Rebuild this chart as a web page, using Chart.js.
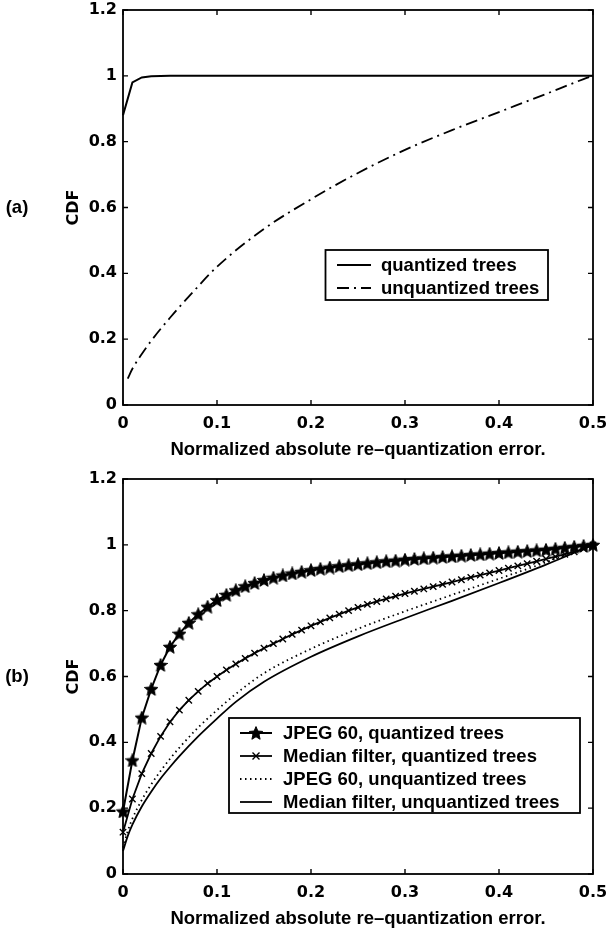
<!DOCTYPE html>
<html>
<head>
<meta charset="utf-8">
<script src="https://cdn.jsdelivr.net/npm/chart.js@4.4.0/dist/chart.umd.min.js"></script>
<style>
  html, body { margin: 0; padding: 0; background: #fff; overflow: hidden; }
  body { width: 612px; height: 931px; position: relative; }
  .panel { position: absolute; left: 0; width: 612px; height: 469px; }
  #panelA { top: 0; }
  #panelB { top: 469px; }
</style>
</head>
<body>
<div class="panel" id="panelA"><canvas id="chartA" width="612" height="469"></canvas></div>
<div class="panel" id="panelB"><canvas id="chartB" width="612" height="469"></canvas></div>
<script>
// Axis ticks (shared by both panels)
const xTickValues = [0, 0.1, 0.2, 0.3, 0.4, 0.5];
const xTickLabels = ['0', '0.1', '0.2', '0.3', '0.4', '0.5'];
const yTickValues = [0, 0.2, 0.4, 0.6, 0.8, 1, 1.2];
const yTickLabels = ['0', '0.2', '0.4', '0.6', '0.8', '1', '1.2'];

// Panel (a)
const aQuantX = [0, 0.01, 0.02, 0.03, 0.05, 0.1, 0.2, 0.3, 0.4, 0.5];
const aQuantY = [0.88, 0.98, 0.995, 0.999, 1, 1, 1, 1, 1, 1];
const aUnquantX = [0.005, 0.01, 0.02, 0.03, 0.05, 0.075, 0.1, 0.15, 0.2, 0.25, 0.3, 0.35, 0.4, 0.45, 0.49, 0.5];
const aUnquantY = [0.08, 0.11, 0.155, 0.195, 0.265, 0.345, 0.42, 0.535, 0.625, 0.705, 0.775, 0.835, 0.89, 0.945, 0.99, 1.0];

// Panel (b) - marker series sampled every 0.01
const bMarkX = [0, 0.01, 0.02, 0.03, 0.04, 0.05, 0.06, 0.07, 0.08, 0.09,
    0.10, 0.11, 0.12, 0.13, 0.14, 0.15, 0.16, 0.17, 0.18, 0.19,
    0.20, 0.21, 0.22, 0.23, 0.24, 0.25, 0.26, 0.27, 0.28, 0.29,
    0.30, 0.31, 0.32, 0.33, 0.34, 0.35, 0.36, 0.37, 0.38, 0.39,
    0.40, 0.41, 0.42, 0.43, 0.44, 0.45, 0.46, 0.47, 0.48, 0.49, 0.50];
const bJpegQuant = [0.19, 0.345, 0.475, 0.562, 0.635, 0.690, 0.730, 0.763, 0.789, 0.812,
    0.832, 0.848, 0.862, 0.874, 0.884, 0.893, 0.900, 0.907, 0.913, 0.918,
    0.923, 0.927, 0.931, 0.935, 0.938, 0.941, 0.944, 0.947, 0.950, 0.952,
    0.955, 0.957, 0.959, 0.961, 0.963, 0.965, 0.967, 0.969, 0.971, 0.973,
    0.975, 0.977, 0.979, 0.981, 0.983, 0.985, 0.988, 0.991, 0.994, 0.997, 1.0];
const bMedianQuant = [0.127, 0.228, 0.305, 0.366, 0.418, 0.462, 0.498, 0.528, 0.555, 0.579,
    0.600, 0.620, 0.638, 0.655, 0.671, 0.686, 0.700, 0.714, 0.728, 0.741,
    0.754, 0.766, 0.778, 0.789, 0.800, 0.810, 0.819, 0.828, 0.836, 0.844,
    0.852, 0.859, 0.866, 0.873, 0.880, 0.887, 0.894, 0.901, 0.908, 0.915,
    0.922, 0.929, 0.936, 0.943, 0.950, 0.957, 0.964, 0.971, 0.979, 0.988, 1.0];
const bLineX = [0, 0.005, 0.01, 0.02, 0.03, 0.04, 0.05, 0.06, 0.08, 0.1, 0.12, 0.15, 0.2, 0.25, 0.3, 0.35, 0.4, 0.45, 0.5];
const bJpegUnquant = [0.08, 0.13, 0.168, 0.225, 0.272, 0.313, 0.35, 0.384, 0.445, 0.498, 0.547, 0.61, 0.684, 0.745, 0.798, 0.848, 0.897, 0.947, 1.0];
const bMedianUnquant = [0.07, 0.115, 0.15, 0.205, 0.25, 0.29, 0.325, 0.358, 0.418, 0.472, 0.523, 0.584, 0.66, 0.722, 0.777, 0.83, 0.884, 0.94, 1.0];

const TICK_FONT = '"DejaVu Sans", "Liberation Sans", sans-serif';
const TEXT_FONT = '"Liberation Sans", Arial, sans-serif';

function toPoints(xs, ys) {
    return xs.map((x, i) => ({ x: x, y: ys[i] }));
}

// filled five point star used as a marker
function makeStar(size) {
    const c = document.createElement('canvas');
    c.width = size;
    c.height = size;
    const g = c.getContext('2d');
    const R = size / 2, r = R * 0.45;
    g.beginPath();
    for (let i = 0; i < 10; i++) {
        const rad = i % 2 ? r : R;
        const ang = -Math.PI / 2 + i * Math.PI / 5;
        g.lineTo(R + rad * Math.cos(ang), R + 0.6 + rad * Math.sin(ang));
    }
    g.closePath();
    g.fillStyle = '#000';
    g.fill();
    g.strokeStyle = '#000';
    g.lineWidth = 1;
    g.stroke();
    return c;
}
const starImg = makeStar(14);

// box + inward ticks on all four sides
const frameTicks = {
    id: 'frameTicks',
    afterDatasetsDraw(chart) {
        const { ctx, chartArea: a, scales: { x, y } } = chart;
        ctx.save();
        ctx.strokeStyle = '#000';
        ctx.lineWidth = 1.8;
        ctx.strokeRect(a.left, a.top, a.right - a.left, a.bottom - a.top);
        ctx.lineWidth = 1.4;
        ctx.beginPath();
        xTickValues.forEach(v => {
            const px = x.getPixelForValue(v);
            ctx.moveTo(px, a.bottom); ctx.lineTo(px, a.bottom - 5);
            ctx.moveTo(px, a.top); ctx.lineTo(px, a.top + 5);
        });
        yTickValues.forEach(v => {
            const py = y.getPixelForValue(v);
            ctx.moveTo(a.left, py); ctx.lineTo(a.left + 5, py);
            ctx.moveTo(a.right, py); ctx.lineTo(a.right - 5, py);
        });
        ctx.stroke();
        ctx.restore();
    }
};

// legend box inside the axes + panel letter
const boxLegend = {
    id: 'boxLegend',
    afterDraw(chart, args, opts) {
        const ctx = chart.ctx;
        const b = opts.box;
        ctx.save();
        ctx.fillStyle = '#fff';
        ctx.fillRect(b.left, b.top, b.right - b.left, b.bottom - b.top);
        ctx.strokeStyle = '#000';
        ctx.lineWidth = 1.8;
        ctx.strokeRect(b.left, b.top, b.right - b.left, b.bottom - b.top);
        ctx.font = 'bold 18.5px ' + TEXT_FONT;
        ctx.textBaseline = 'middle';
        ctx.fillStyle = '#000';
        opts.entries.forEach((e, i) => {
            const yy = b.firstY + i * b.step;
            ctx.lineWidth = e.width;
            ctx.setLineDash(e.dash);
            ctx.beginPath();
            ctx.moveTo(b.sample0, yy);
            ctx.lineTo(b.sample1, yy);
            ctx.stroke();
            ctx.setLineDash([]);
            const mx = (b.sample0 + b.sample1) / 2;
            if (e.marker === 'star') {
                ctx.drawImage(starImg, mx - starImg.width / 2, yy - starImg.height / 2);
            } else if (e.marker === 'cross') {
                ctx.lineWidth = 1.4;
                ctx.beginPath();
                ctx.moveTo(mx - 3.5, yy - 3.5); ctx.lineTo(mx + 3.5, yy + 3.5);
                ctx.moveTo(mx - 3.5, yy + 3.5); ctx.lineTo(mx + 3.5, yy - 3.5);
                ctx.stroke();
            }
            ctx.fillText(e.label, b.textX, yy + 1);
        });
        ctx.textAlign = 'center';
        ctx.fillText(opts.letter, 17, (chart.chartArea.top + chart.chartArea.bottom) / 2);
        ctx.restore();
    }
};

function makeChart(canvasId, datasets, legendOpts) {
    const tickFont = { family: TICK_FONT, size: 16, weight: 'bold' };
    return new Chart(document.getElementById(canvasId), {
        type: 'line',
        data: { datasets: datasets },
        options: {
            responsive: false,
            animation: false,
            devicePixelRatio: 1,
            layout: { padding: { left: 0, top: 10, right: 19, bottom: 0 } },
            plugins: {
                legend: { display: false },
                tooltip: { enabled: false },
                boxLegend: legendOpts
            },
            scales: {
                x: {
                    type: 'linear',
                    min: 0,
                    max: 0.5,
                    grid: { display: false, drawTicks: false },
                    border: { display: false },
                    afterBuildTicks: s => { s.ticks = xTickValues.map(v => ({ value: v })); },
                    afterFit: s => {
                        s.height = 64;
                        s.paddingLeft = 0; s.paddingRight = 0; s.paddingTop = 0; s.paddingBottom = 0;
                    },
                    ticks: {
                        padding: 9,
                        maxRotation: 0,
                        color: '#000',
                        font: tickFont,
                        callback: (v, i) => xTickLabels[i]
                    },
                    title: {
                        display: true,
                        text: 'Normalized absolute re\u2013quantization error.',
                        color: '#000',
                        font: { family: TEXT_FONT, size: 18.5, weight: 'bold' },
                        padding: { top: 0, bottom: 8 }
                    }
                },
                y: {
                    type: 'linear',
                    min: 0,
                    max: 1.2,
                    grid: { display: false, drawTicks: false },
                    border: { display: false },
                    afterBuildTicks: s => { s.ticks = yTickValues.map(v => ({ value: v })); },
                    afterFit: s => {
                        s.width = 123;
                        s.paddingLeft = 0; s.paddingRight = 0; s.paddingTop = 0; s.paddingBottom = 0;
                    },
                    ticks: {
                        padding: 6,
                        color: '#000',
                        font: tickFont,
                        callback: (v, i) => yTickLabels[i]
                    },
                    title: {
                        display: true,
                        text: 'CDF',
                        color: '#000',
                        font: { family: TICK_FONT, size: 16, weight: 'bold' },
                        padding: { top: 64, bottom: 0 }
                    }
                }
            }
        },
        plugins: [frameTicks, boxLegend]
    });
}

const lineBase = {
    borderColor: '#000',
    backgroundColor: '#000',
    borderWidth: 1.8,
    pointRadius: 0,
    fill: false,
    clip: false
};

makeChart('chartA', [
    Object.assign({}, lineBase, { label: 'quantized trees', data: toPoints(aQuantX, aQuantY), borderWidth: 2 }),
    Object.assign({}, lineBase, { label: 'unquantized trees', data: toPoints(aUnquantX, aUnquantY), borderDash: [12, 5, 2, 5], cubicInterpolationMode: 'monotone' })
], {
    letter: '(a)',
    box: { left: 325.5, top: 250, right: 548, bottom: 300, firstY: 265, step: 23, sample0: 337, sample1: 371, textX: 381 },
    entries: [
        { label: 'quantized trees', dash: [], width: 1.8, marker: null },
        { label: 'unquantized trees', dash: [12, 5, 2, 5], width: 1.8, marker: null }
    ]
});

makeChart('chartB', [
    Object.assign({}, lineBase, { label: 'Median filter, unquantized trees', data: toPoints(bLineX, bMedianUnquant), cubicInterpolationMode: 'monotone' }),
    Object.assign({}, lineBase, { label: 'JPEG 60, unquantized trees', data: toPoints(bLineX, bJpegUnquant), borderDash: [1.5, 3.5], cubicInterpolationMode: 'monotone' }),
    Object.assign({}, lineBase, { label: 'Median filter, quantized trees', data: toPoints(bMarkX, bMedianQuant), pointStyle: 'crossRot', pointRadius: 4.5, pointBorderWidth: 1.4 }),
    Object.assign({}, lineBase, { label: 'JPEG 60, quantized trees', data: toPoints(bMarkX, bJpegQuant), pointStyle: starImg, pointRadius: 5, borderWidth: 2 })
], {
    letter: '(b)',
    box: { left: 229, top: 249, right: 580, bottom: 344, firstY: 264, step: 23, sample0: 240, sample1: 272, textX: 283 },
    entries: [
        { label: 'JPEG 60, quantized trees', dash: [], width: 2, marker: 'star' },
        { label: 'Median filter, quantized trees', dash: [], width: 1.8, marker: 'cross' },
        { label: 'JPEG 60, unquantized trees', dash: [1.5, 3.5], width: 1.8, marker: null },
        { label: 'Median filter, unquantized trees', dash: [], width: 1.8, marker: null }
    ]
});
</script>
</body>
</html>
